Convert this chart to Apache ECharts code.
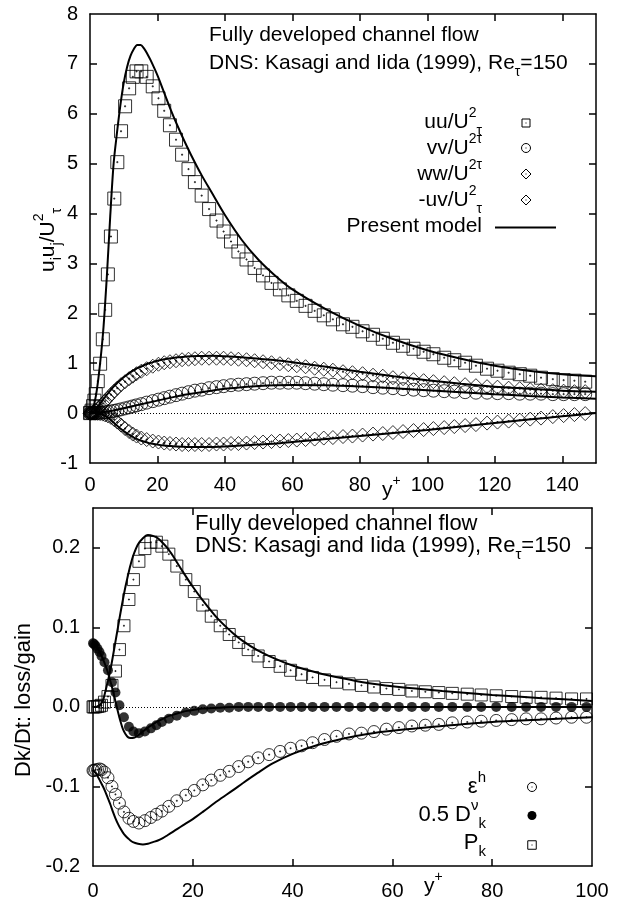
<!DOCTYPE html>
<html><head><meta charset="utf-8">
<script src="https://cdn.jsdelivr.net/npm/echarts@6/dist/echarts.min.js"></script>
<style>html,body{margin:0;padding:0;background:#fff}#c{width:632px;height:907px}</style>
</head><body><div id="c"></div>
<script>
// ---------- DATA ----------
// DNS wall-normal grid (y+), shared by both panels
const yPlus = [0,0.2,0.5,0.9,1.3,1.7,2.3,3.0,3.8,4.5,5.3,6.2,7.2,8.1,9.2,10.4,11.6,12.7,13.8,15.2,16.8,18.6,20.3,22.0,23.7,25.5,27.3,29.2,31.1,33.1,35.3,37.5,39.6,41.8,44.0,46.4,48.8,51.3,53.8,56.3,58.8,61.3,63.9,66.6,69.3,72.0,75.0,77.8,80.8,83.9,86.8,89.8,92.8,95.9,98.9,101.8,105.0,108.0,111.2,114.4,117.7,120.8,124.1,127.4,130.5,133.7,137.2,140.4,143.6,146.8];
const uuDNS = [0,0.01,0.05,0.14,0.25,0.38,0.64,0.99,1.48,2.07,2.78,3.54,4.30,5.03,5.65,6.15,6.51,6.74,6.85,6.85,6.74,6.55,6.31,6.06,5.77,5.48,5.18,4.89,4.63,4.36,4.09,3.86,3.64,3.44,3.24,3.08,2.91,2.76,2.61,2.48,2.36,2.25,2.15,2.05,1.96,1.88,1.78,1.73,1.64,1.57,1.49,1.41,1.35,1.29,1.23,1.18,1.11,1.06,1.01,0.95,0.89,0.85,0.81,0.78,0.75,0.71,0.68,0.66,0.65,0.63];
const vvDNS = [0,0,0,0,0.001,0.002,0.004,0.007,0.012,0.017,0.024,0.033,0.045,0.058,0.075,0.095,0.115,0.135,0.155,0.18,0.21,0.24,0.27,0.30,0.33,0.36,0.39,0.42,0.45,0.47,0.50,0.52,0.54,0.56,0.57,0.58,0.59,0.60,0.61,0.61,0.61,0.61,0.60,0.59,0.58,0.57,0.56,0.55,0.54,0.52,0.51,0.50,0.48,0.47,0.46,0.45,0.44,0.43,0.42,0.41,0.41,0.40,0.40,0.39,0.39,0.39,0.38,0.38,0.38,0.38];
const wwDNS = [0,0.001,0.005,0.015,0.03,0.05,0.08,0.13,0.19,0.24,0.30,0.37,0.44,0.50,0.57,0.63,0.69,0.74,0.79,0.84,0.89,0.94,0.98,1.01,1.03,1.05,1.07,1.08,1.09,1.10,1.10,1.10,1.10,1.09,1.08,1.07,1.05,1.03,1.01,0.99,0.97,0.95,0.93,0.90,0.88,0.86,0.83,0.81,0.79,0.76,0.74,0.71,0.69,0.67,0.65,0.63,0.61,0.59,0.57,0.55,0.53,0.52,0.50,0.49,0.47,0.46,0.45,0.44,0.43,0.43];
const uvDNS = [0,0,0,0,-0.001,-0.002,-0.005,-0.01,-0.02,-0.035,-0.055,-0.085,-0.13,-0.18,-0.24,-0.31,-0.37,-0.42,-0.46,-0.50,-0.53,-0.56,-0.58,-0.60,-0.61,-0.62,-0.63,-0.63,-0.63,-0.63,-0.63,-0.62,-0.62,-0.61,-0.61,-0.60,-0.59,-0.58,-0.57,-0.56,-0.55,-0.54,-0.53,-0.52,-0.50,-0.49,-0.47,-0.46,-0.44,-0.42,-0.41,-0.39,-0.37,-0.35,-0.33,-0.31,-0.29,-0.27,-0.25,-0.23,-0.20,-0.18,-0.16,-0.14,-0.12,-0.10,-0.07,-0.05,-0.03,-0.01];

// Present model, top panel
const yPlusModel = [0,1,2,3,4,5,6,7,8,9,10,11,12,13,14,15,16,17,18,20,22,24,26,28,30,33,36,40,45,50,55,60,70,80,90,100,110,120,130,140,150];
const uuModel = [0,0.12,0.45,1.0,1.72,2.75,3.95,5.0,5.62,6.17,6.62,6.94,7.16,7.3,7.38,7.38,7.31,7.2,7.07,6.77,6.42,6.07,5.75,5.45,5.17,4.78,4.43,3.97,3.47,3.07,2.75,2.48,2.08,1.75,1.48,1.26,1.09,0.95,0.85,0.78,0.74];
const vvModel = [0,0,0.005,0.012,0.02,0.03,0.04,0.055,0.07,0.085,0.1,0.115,0.13,0.145,0.16,0.175,0.19,0.205,0.22,0.25,0.28,0.31,0.34,0.37,0.39,0.42,0.45,0.49,0.52,0.545,0.56,0.565,0.56,0.535,0.5,0.46,0.42,0.38,0.345,0.315,0.29];
const wwModel = [0,0.03,0.1,0.19,0.28,0.37,0.45,0.53,0.6,0.66,0.72,0.77,0.82,0.86,0.9,0.93,0.96,0.99,1.01,1.05,1.08,1.1,1.12,1.13,1.14,1.145,1.15,1.14,1.12,1.09,1.06,1.02,0.93,0.83,0.74,0.66,0.59,0.53,0.49,0.45,0.43];
const uvModel = [0,0,-0.005,-0.015,-0.04,-0.08,-0.13,-0.19,-0.25,-0.31,-0.36,-0.41,-0.45,-0.49,-0.52,-0.55,-0.57,-0.59,-0.61,-0.63,-0.65,-0.66,-0.67,-0.675,-0.68,-0.68,-0.68,-0.67,-0.65,-0.63,-0.61,-0.58,-0.52,-0.46,-0.40,-0.34,-0.27,-0.20,-0.13,-0.065,0];

// Bottom panel DNS (first 55 grid points, y+ <= 100)
const epsDNS = [-0.080,-0.080,-0.079,-0.079,-0.078,-0.079,-0.082,-0.089,-0.100,-0.110,-0.121,-0.132,-0.140,-0.144,-0.146,-0.143,-0.139,-0.135,-0.131,-0.125,-0.118,-0.111,-0.105,-0.098,-0.092,-0.086,-0.081,-0.075,-0.069,-0.064,-0.060,-0.056,-0.052,-0.049,-0.045,-0.041,-0.037,-0.034,-0.033,-0.031,-0.028,-0.026,-0.024,-0.023,-0.022,-0.020,-0.019,-0.018,-0.017,-0.016,-0.015,-0.015,-0.014,-0.013,-0.013];
const diffDNS = [0.080,0.079,0.077,0.073,0.069,0.064,0.056,0.046,0.031,0.018,0.002,-0.013,-0.025,-0.031,-0.033,-0.031,-0.027,-0.023,-0.019,-0.015,-0.011,-0.007,-0.005,-0.003,-0.002,-0.001,-0.001,0,0,0,0,0,0,0,0,0,0,0,0,0,0,0,0,0,0,0,0,0,0,0,0,0,0,0,0];
const prodDNS = [0,0,0,0.0005,0.001,0.002,0.006,0.013,0.027,0.045,0.072,0.102,0.135,0.160,0.183,0.199,0.207,0.207,0.202,0.192,0.177,0.160,0.145,0.128,0.114,0.102,0.091,0.081,0.072,0.064,0.057,0.051,0.046,0.041,0.037,0.034,0.031,0.029,0.027,0.025,0.023,0.022,0.020,0.019,0.018,0.017,0.016,0.015,0.014,0.013,0.012,0.012,0.011,0.010,0.010];

// Present model, bottom panel
const yPlusModelB = [0,0.5,1,1.5,2,2.5,3,3.5,4,4.5,5,5.5,6,6.5,7,7.5,8,9,10,11,12,13,14,15,16,17,18,20,22,25,28,30,33,36,40,45,50,55,60,70,80,90,100];
const epsModel = [-0.080,-0.083,-0.088,-0.094,-0.100,-0.107,-0.115,-0.123,-0.132,-0.140,-0.147,-0.153,-0.158,-0.162,-0.165,-0.168,-0.170,-0.172,-0.173,-0.172,-0.170,-0.168,-0.165,-0.161,-0.157,-0.153,-0.149,-0.141,-0.132,-0.118,-0.105,-0.096,-0.083,-0.071,-0.059,-0.048,-0.040,-0.034,-0.030,-0.024,-0.019,-0.016,-0.013];
const diffModel = [0.082,0.078,0.073,0.067,0.060,0.052,0.043,0.032,0.020,0.007,-0.006,-0.018,-0.028,-0.034,-0.038,-0.039,-0.039,-0.036,-0.031,-0.026,-0.022,-0.018,-0.015,-0.012,-0.010,-0.008,-0.006,-0.004,-0.002,-0.001,0,0,0,0,0,0,0,0,0,0,0,0,0];
const prodModel = [0,0,0.001,0.003,0.008,0.02,0.033,0.047,0.064,0.082,0.100,0.118,0.135,0.151,0.165,0.178,0.189,0.204,0.212,0.216,0.215,0.212,0.206,0.199,0.190,0.180,0.170,0.151,0.134,0.111,0.093,0.083,0.071,0.062,0.052,0.043,0.036,0.030,0.026,0.020,0.015,0.011,0.0075];

// Tick labels
const topXTicks = [0,20,40,60,80,100,120,140];
const topYTicks = [-1,0,1,2,3,4,5,6,7,8];
const botXTicks = [0,20,40,60,80,100];
const botYTicks = [-0.2,-0.1,0.0,0.1,0.2];

// ---------- CHART ----------
const FONT = '"Liberation Sans", Arial, Helvetica, sans-serif';
const SQ = 'path://M0,0L10,0L10,10L0,10Z M4.6,4.6L5.4,4.6L5.4,5.4L4.6,5.4Z';
const CI = 'path://M0,5A5,5,0,1,1,10,5A5,5,0,1,1,0,5Z M4.6,4.6L5.4,4.6L5.4,5.4L4.6,5.4Z';
const DI = 'path://M5,0L10,5L5,10L0,5Z M4.6,4.6L5.4,4.6L5.4,5.4L4.6,5.4Z';

const G0 = { left: 90, top: 14, width: 506, height: 449 };
const G1 = { left: 93, top: 508, width: 499, height: 358 };

function pairs(xs, ys) { return ys.map((y, i) => [xs[i], y]); }
function inList(list, v) { return list.some(t => Math.abs(t - v) < 1e-6); }

function axis(gridIndex, pos, min, max, interval, labels, fmt, margin) {
  return {
    type: 'value', gridIndex, position: pos, min, max, interval,
    axisLine: { show: true, onZero: false, lineStyle: { color: '#000', width: 1.5 } },
    splitLine: { show: false },
    axisTick: { show: false },
    axisLabel: labels ? {
      show: true, color: '#000', fontSize: 20, fontFamily: FONT, margin,
      formatter: v => inList(labels, v) ? fmt(v) : ''
    } : { show: false }
  };
}

// Inward mirrored tick marks on all four frame sides, as markLine segments in data coordinates
const TL = 7;
function tickSegs(xTicks, yTicks, xMin, xMax, yMin, yMax, g) {
  const dx = (xMax - xMin) * TL / g.width, dy = (yMax - yMin) * TL / g.height;
  const segs = [];
  xTicks.forEach(v => {
    if (v <= xMin || v >= xMax) return;
    segs.push([{ coord: [v, yMin] }, { coord: [v, yMin + dy] }]);
    segs.push([{ coord: [v, yMax] }, { coord: [v, yMax - dy] }]);
  });
  yTicks.forEach(v => {
    if (v <= yMin + 1e-9 || v >= yMax - 1e-9) return;
    segs.push([{ coord: [xMin, v] }, { coord: [xMin + dx, v] }]);
    segs.push([{ coord: [xMax, v] }, { coord: [xMax - dx, v] }]);
  });
  return segs;
}
function tickMarkLine(segs) {
  return { silent: true, symbol: ['none', 'none'], label: { show: false }, z: 6, animation: false,
    lineStyle: { type: 'solid', color: '#000', width: 1.5 }, emphasis: { disabled: true }, data: segs };
}

const ptStyle = { color: 'rgba(0,0,0,0)', borderColor: '#000', borderWidth: 1 };
function scatter(xi, yi, data, symbol, size, style) {
  return { type: 'scatter', xAxisIndex: xi, yAxisIndex: yi, data, symbol, symbolSize: size,
           itemStyle: style || ptStyle, z: 2, silent: true };
}
function model(xi, yi, data) {
  return { type: 'line', xAxisIndex: xi, yAxisIndex: yi, data, smooth: 0.3, symbol: 'none', showSymbol: false,
           lineStyle: { color: '#000', width: 2 }, z: 3, silent: true };
}
const zeroLine = { silent: true, symbol: ['none', 'none'], label: { show: false }, z: 1,
  lineStyle: { type: [1, 2], color: '#000', width: 1 }, data: [{ yAxis: 0 }] };

function rich(s) {
  const sm = Math.round(s * 0.68);
  return {
    sup: { fontSize: sm, fontFamily: FONT, fill: '#000', lineHeight: 10, verticalAlign: 'top' },
    sub: { fontSize: sm, fontFamily: FONT, fill: '#000', lineHeight: 10, verticalAlign: 'bottom' }
  };
}
function txt(x, y, text, s, align, rot) {
  const e = { type: 'text', x, y, silent: true, z: 10,
    style: { text, fontSize: s, fontFamily: FONT, fill: '#000', align, verticalAlign: 'middle',
             lineHeight: Math.round(s * 1.5), rich: rich(s) } };
  if (rot) e.rotation = rot;
  return e;
}
const lk = { fill: 'none', stroke: '#000', lineWidth: 1 };
function dot(x, y) { return { type: 'rect', silent: true, shape: { x: x - 0.5, y: y - 0.5, width: 1, height: 1 }, style: { fill: '#000' } }; }
function lgSquare(x, y, s) { return [{ type: 'rect', silent: true, shape: { x: x - s / 2, y: y - s / 2, width: s, height: s }, style: lk }, dot(x, y)]; }
function lgCircle(x, y, r) { return [{ type: 'circle', silent: true, shape: { cx: x, cy: y, r }, style: lk }, dot(x, y)]; }
function lgDiamond(x, y, r) { return [{ type: 'polygon', silent: true, shape: { points: [[x, y - r], [x + r, y], [x, y + r], [x - r, y]] }, style: lk }, dot(x, y)]; }

const option = {
  animation: false,
  backgroundColor: '#fff',
  grid: [
    Object.assign({ show: false, containLabel: false }, G0),
    Object.assign({ show: false, containLabel: false }, G1)
  ],
  xAxis: [
    axis(0, 'bottom', 0, 150, 20, topXTicks, v => String(Math.round(v)), 12),
    axis(0, 'top', 0, 150, 20, null),
    axis(1, 'bottom', 0, 100, 20, botXTicks, v => String(Math.round(v)), 15),
    axis(1, 'top', 0, 100, 20, null)
  ],
  yAxis: [
    axis(0, 'left', -1, 8, 1, topYTicks, v => String(Math.round(v)), 12),
    axis(0, 'right', -1, 8, 1, null),
    axis(1, 'left', -0.2, 0.25, 0.1, botYTicks, v => v.toFixed(1), 13),
    axis(1, 'right', -0.2, 0.25, 0.1, null)
  ],
  series: [
    Object.assign(scatter(0, 0, pairs(yPlus, uuDNS), SQ, 13), { markLine: zeroLine }),
    scatter(0, 0, pairs(yPlus, vvDNS), CI, 13),
    scatter(0, 0, pairs(yPlus, wwDNS), DI, 14),
    scatter(0, 0, pairs(yPlus, uvDNS), DI, 14),
    Object.assign(model(0, 0, pairs(yPlusModel, uuModel)),
      { markLine: tickMarkLine(tickSegs(topXTicks, topYTicks, 0, 150, -1, 8, G0)) }),
    model(0, 0, pairs(yPlusModel, vvModel)),
    model(0, 0, pairs(yPlusModel, wwModel)),
    model(0, 0, pairs(yPlusModel, uvModel)),

    Object.assign(scatter(2, 2, pairs(yPlus, epsDNS), CI, 12), { markLine: zeroLine }),
    scatter(2, 2, pairs(yPlus, diffDNS), 'circle', 10, { color: '#000', borderColor: '#000', borderWidth: 0 }),
    scatter(2, 2, pairs(yPlus, prodDNS), SQ, 12),
    Object.assign(model(2, 2, pairs(yPlusModelB, epsModel)),
      { markLine: tickMarkLine(tickSegs(botXTicks, botYTicks, 0, 100, -0.2, 0.25, G1)) }),
    model(2, 2, pairs(yPlusModelB, diffModel)),
    model(2, 2, pairs(yPlusModelB, prodModel))
  ],
  graphic: [].concat(
    [
      txt(209, 35, 'Fully developed channel flow', 21, 'left'),
      txt(209, 63, 'DNS: Kasagi and Iida (1999), Re{sub|τ}=150', 21, 'left'),
      txt(482, 122, 'uu/U{sup|2}{sub|τ}', 21, 'right'),
      txt(482, 148, 'vv/U{sup|2}{sup|τ}', 21, 'right'),
      txt(482, 174, 'ww/U{sup|2}{sup|τ}', 21, 'right'),
      txt(482, 200, '-uv/U{sup|2}{sub|τ}', 21, 'right'),
      txt(482, 226, 'Present model', 21, 'right'),
      { type: 'line', silent: true, shape: { x1: 495, y1: 227.5, x2: 556, y2: 227.5 }, style: { stroke: '#000', lineWidth: 2 } },
      txt(382, 490, 'y{sup|+}', 21, 'left'),
      txt(48, 240, 'u{sub|i}u{sub|j}/U{sup|2}{sub|τ}', 21, 'center', Math.PI / 2),

      txt(195, 524, 'Fully developed channel flow', 22, 'left'),
      txt(195, 546, 'DNS: Kasagi and Iida (1999), Re{sub|τ}=150', 22, 'left'),
      txt(486, 787, 'ε{sup|h}', 22, 'right'),
      txt(486, 815, '0.5 D{sup|ν}{sub|k}', 22, 'right'),
      txt(486, 843, 'P{sub|k}', 22, 'right'),
      { type: 'circle', silent: true, shape: { cx: 532, cy: 815.5, r: 4.5 }, style: { fill: '#000' } },
      txt(424, 886, 'y{sup|+}', 21, 'left'),
      txt(24, 700, 'Dk/Dt: loss/gain', 22, 'center', Math.PI / 2)
    ],
    lgSquare(526, 123, 8),
    lgCircle(526, 148, 4.5),
    lgDiamond(526, 174, 5),
    lgDiamond(526, 200, 5),
    lgCircle(532, 787, 4.5),
    lgSquare(532, 845, 8.5)
  )
};

const chart = echarts.init(document.getElementById('c'), null, { renderer: 'canvas' });
chart.setOption(option);
</script>
</body></html>
